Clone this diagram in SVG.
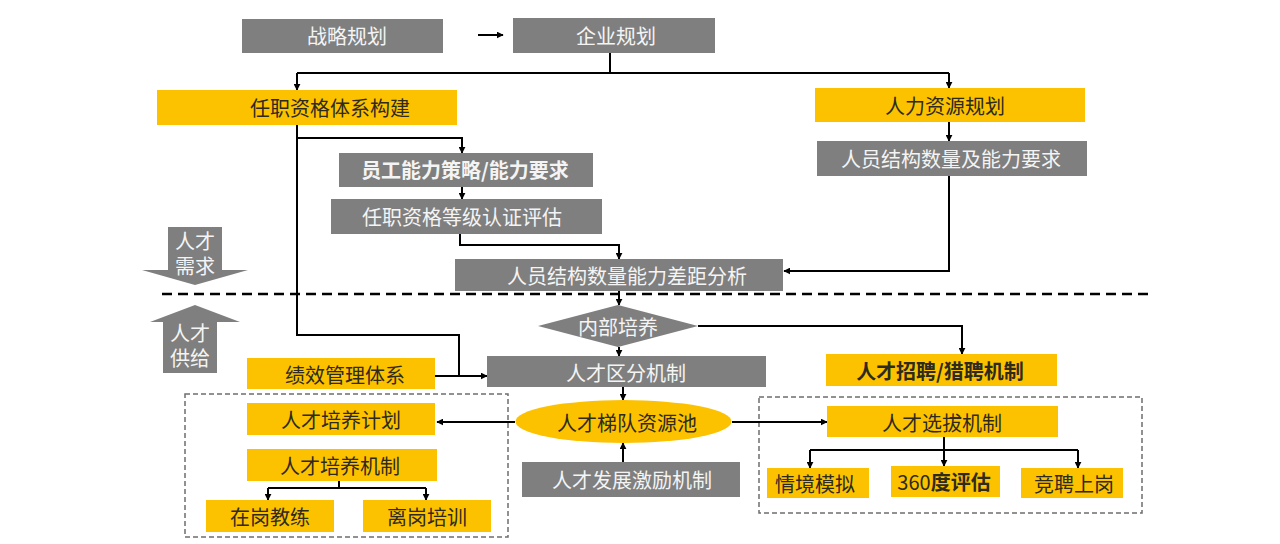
<svg xmlns="http://www.w3.org/2000/svg" width="1280" height="544" viewBox="0 0 1280 544">
<defs>
<marker id="ah" viewBox="0 0 10 10" refX="9" refY="5" markerWidth="7" markerHeight="7" markerUnits="userSpaceOnUse" orient="auto"><path d="M0,0 L10,5 L0,10 z" fill="#000"/></marker>
<style>
.g{fill:#7f7f7f}
.y{fill:#fcc200}
.tw{font-family:"Noto Sans CJK SC","Liberation Sans",sans-serif;font-size:20px;fill:#f4f4f4;text-anchor:middle;dominant-baseline:central}
.td{font-family:"Noto Sans CJK SC","Liberation Sans",sans-serif;font-size:20px;fill:#2e2a1e;text-anchor:middle;dominant-baseline:central}
.b{font-weight:bold}
.c{fill:none;stroke:#000;stroke-width:2}
.ca{fill:none;stroke:#000;stroke-width:2;marker-end:url(#ah)}
.grp{fill:none;stroke:#6e6e6e;stroke-width:1.5;stroke-dasharray:5 3}
</style>
</defs>
<rect width="1280" height="544" fill="#fff"/>

<g id="sep"><line x1="162" y1="294" x2="1152" y2="294" stroke="#000" stroke-width="2.5" stroke-dasharray="10 6"/></g>
<g id="group-train"><rect class="grp" x="185" y="394" width="323" height="143"/></g>
<g id="group-select"><rect class="grp" x="759" y="397" width="383" height="116"/></g>

<g id="demand"><path class="g" d="M168,227 H222 V270 H248 L195,285 L142,270 H168 Z"/><text class="tw" x="195" y="240" font-size="14">人才</text><text class="tw" x="195" y="265" font-size="14">需求</text></g>
<g id="supply"><path class="g" d="M195,305 L240,322 H217 V373 H163 V322 H150 Z"/><text class="tw" x="190" y="332" font-size="14">人才</text><text class="tw" x="190" y="357" font-size="14">供给</text></g>

<g id="connectors">
<path class="ca" d="M478,35 H503"/>
<path class="c" d="M610,53 V73"/>
<path class="c" d="M297,73 H949"/>
<path class="ca" d="M297,73 V90"/>
<path class="ca" d="M949,73 V88"/>
<path class="ca" d="M949,122 V141"/>
<path class="ca" d="M949,176 V271 H784"/>
<path class="c" d="M297,125 V335 H459 V376"/>
<path class="ca" d="M297,138 H462 V153"/>
<path class="ca" d="M462,187 V199"/>
<path class="ca" d="M460,234 V245 H619 V259"/>
<path class="ca" d="M619,291 V305"/>
<path class="ca" d="M698,326 H962 V354"/>
<path class="ca" d="M619,347 V356"/>
<path class="ca" d="M435,376 H487"/>
<path class="ca" d="M623,387 V400"/>
<path class="ca" d="M623,462 V443"/>
<path class="ca" d="M515,422 H437"/>
<path class="ca" d="M732,422 H827"/>
<path class="c" d="M944,437 V450 M810,450 H1078"/>
<path class="ca" d="M810,450 V468"/>
<path class="ca" d="M944,450 V466"/>
<path class="ca" d="M1078,450 V468"/>
<path class="c" d="M339,481 V488 M268,488 H426"/>
<path class="ca" d="M268,488 V500"/>
<path class="ca" d="M426,488 V500"/>
</g>

<g id="n-strategy"><rect class="g" x="242" y="19" width="201" height="34"/><text class="tw" x="347" y="35">战略规划</text></g>
<g id="n-enterprise"><rect class="g" x="513" y="18" width="202" height="35"/><text class="tw" x="616" y="35">企业规划</text></g>
<g id="n-qual"><rect class="y" x="157" y="90" width="300" height="35"/><text class="td" x="330" y="107" font-size="21">任职资格体系构建</text></g>
<g id="n-hrplan"><rect class="y" x="815" y="88" width="270" height="34"/><text class="td" x="945" y="105" font-size="21">人力资源规划</text></g>
<g id="n-structreq"><rect class="g" x="817" y="141" width="270" height="35"/><text class="tw" x="951" y="158" font-size="21">人员结构数量及能力要求</text></g>
<g id="n-staffcap"><rect class="g" x="339" y="153" width="254" height="34"/><text class="tw b" x="465" y="169" font-size="21">员工能力策略/能力要求</text></g>
<g id="n-cert"><rect class="g" x="331" y="199" width="271" height="35"/><text class="tw" x="462" y="216" font-size="21">任职资格等级认证评估</text></g>
<g id="n-gap"><rect class="g" x="455" y="259" width="328" height="32"/><text class="tw" x="627" y="275" font-size="21">人员结构数量能力差距分析</text></g>
<g id="n-internal"><path class="g" d="M538,326 L618,305 L698,326 L618,347 Z"/><text class="tw" x="618" y="326" font-size="17">内部培养</text></g>
<g id="n-recruit"><rect class="y" x="826" y="354" width="231" height="32"/><text class="td b" x="940" y="370" font-size="21">人才招聘/猎聘机制</text></g>
<g id="n-perf"><rect class="y" x="247" y="358" width="188" height="31"/><text class="td" x="345" y="374" font-size="21">绩效管理体系</text></g>
<g id="n-classify"><rect class="g" x="487" y="356" width="279" height="31"/><text class="tw" x="626" y="372" font-size="21">人才区分机制</text></g>
<g id="n-pool"><ellipse class="y" cx="623.5" cy="421.5" rx="108" ry="21.5"/><text class="td" x="627" y="422" font-size="21">人才梯队资源池</text></g>
<g id="n-incentive"><rect class="g" x="522" y="462" width="218" height="35"/><text class="tw" x="632" y="479" font-size="21">人才发展激励机制</text></g>
<g id="n-trainplan"><rect class="y" x="247" y="403" width="188" height="32"/><text class="td" x="341" y="419" font-size="21">人才培养计划</text></g>
<g id="n-trainmech"><rect class="y" x="247" y="449" width="190" height="32"/><text class="td" x="340" y="465" font-size="21">人才培养机制</text></g>
<g id="n-onjob"><rect class="y" x="206" y="500" width="128" height="32"/><text class="td" x="270" y="516" font-size="21">在岗教练</text></g>
<g id="n-offjob"><rect class="y" x="363" y="500" width="128" height="32"/><text class="td" x="427" y="516" font-size="21">离岗培训</text></g>
<g id="n-select"><rect class="y" x="827" y="406" width="231" height="31"/><text class="td" x="942" y="422" font-size="21">人才选拔机制</text></g>
<g id="n-sim"><rect class="y" x="767" y="468" width="102" height="30"/><text class="td" x="815" y="483" font-size="21">情境模拟</text></g>
<g id="n-360"><rect class="y" x="891" y="466" width="109" height="31"/><text class="td" x="944" y="481" font-size="21">360<tspan class="b">度评估</tspan></text></g>
<g id="n-compete"><rect class="y" x="1021" y="468" width="102" height="30"/><text class="td" x="1074" y="483" font-size="21">竞聘上岗</text></g>
</svg>
